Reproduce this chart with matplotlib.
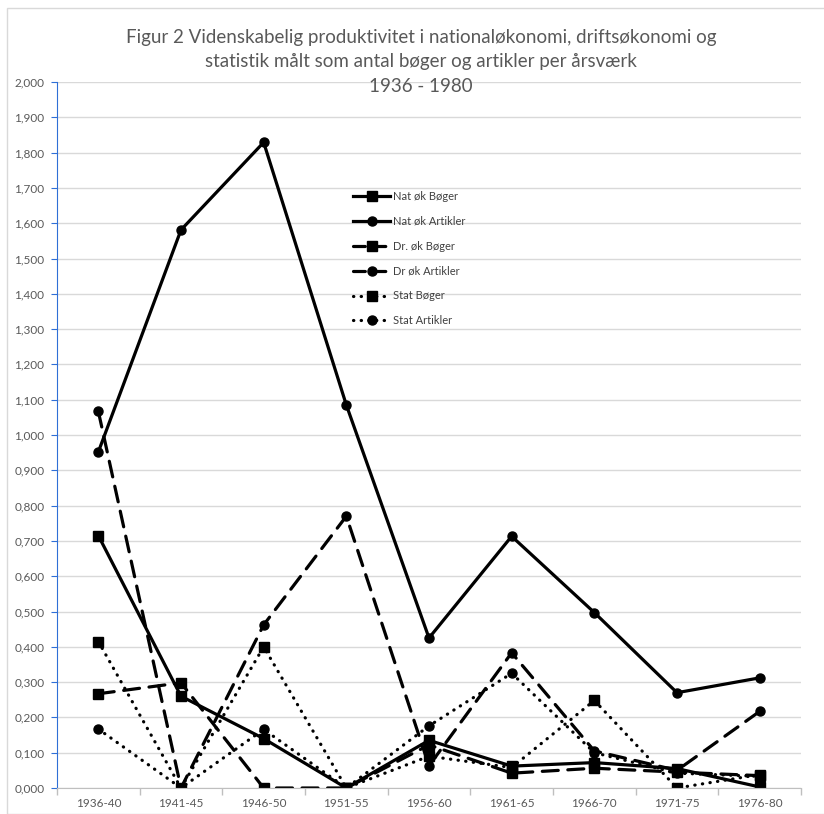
import matplotlib.pyplot as plt
from matplotlib.patches import Rectangle
from matplotlib.ticker import FixedLocator, FuncFormatter, MultipleLocator
import numpy as np

periods = ["1936-40", "1941-45", "1946-50", "1951-55", "1956-60",
           "1961-65", "1966-70", "1971-75", "1976-80"]

nat_boger = [0.715, 0.260, 0.140, 0.000, 0.135, 0.062, 0.072, 0.055, 0.003]
nat_artikler = [0.952, 1.581, 1.829, 1.085, 0.425, 0.713, 0.497, 0.270, 0.312]
dr_boger = [0.267, 0.298, 0.000, 0.000, 0.122, 0.042, 0.056, 0.045, 0.035]
dr_artikler = [1.067, 0.000, 0.462, 0.770, 0.063, 0.383, 0.105, 0.050, 0.217]
stat_boger = [0.415, 0.000, 0.400, 0.000, 0.090, 0.058, 0.248, 0.000, 0.038]
stat_artikler = [0.167, 0.000, 0.166, 0.000, 0.176, 0.325, 0.100, 0.042, 0.033]

series = [
    ("Nat øk Bøger", nat_boger, "-", "s"),
    ("Nat øk Artikler", nat_artikler, "-", "o"),
    ("Dr. øk Bøger", dr_boger, (0, (5, 3)), "s"),
    ("Dr øk Artikler", dr_artikler, (0, (5, 3)), "o"),
    ("Stat Bøger", stat_boger, (0, (0.1, 2.3)), "s"),
    ("Stat Artikler", stat_artikler, (0, (0.1, 2.3)), "o"),
]

plt.rcParams["font.family"] = ["Lato", "DejaVu Sans"]
text_grey = "#595959"

fig = plt.figure(figsize=(8.24, 8.14), dpi=100)
fig.patches.append(Rectangle((7 / 824, 0), 1, 1 - 8 / 814, transform=fig.transFigure,
                             fill=False, edgecolor="#d9d9d9", lw=1))
ax = fig.add_axes([57 / 824, 1 - 788 / 814, 744 / 824, 706 / 814])

x = np.arange(len(periods))
for label, values, ls, marker in series:
    ax.plot(x, values, color="black", lw=2.3, linestyle=ls, marker=marker,
            markersize=6.5, dash_capstyle="round", label=label)

ax.set_xlim(-0.5, len(periods) - 0.5)
ax.set_ylim(0, 2.0)
ax.yaxis.set_major_locator(MultipleLocator(0.1))
ax.yaxis.set_major_formatter(FuncFormatter(lambda v, _: f"{v:.3f}".replace(".", ",")))
ax.grid(axis="y", color="#d9d9d9", lw=1)
ax.set_axisbelow(True)

ax.set_xticks(x)
ax.set_xticklabels(periods)
ax.xaxis.set_minor_locator(FixedLocator(np.arange(-0.5, len(periods), 1.0)))
ax.tick_params(axis="x", which="major", length=0, pad=7, labelsize=8.5, labelcolor=text_grey)
ax.tick_params(axis="x", which="minor", length=5, color="#bfbfbf", width=1)
ax.tick_params(axis="y", length=4, color="#2f6fd6", labelsize=8.5, labelcolor=text_grey, pad=5)

for side in ("top", "right"):
    ax.spines[side].set_visible(False)
ax.spines["bottom"].set_color("#bfbfbf")
ax.spines["left"].set_color("#2f6fd6")

fig.text(421 / 824, 1 - 38 / 814,
         "Figur 2 Videnskabelig produktivitet i nationaløkonomi, driftsøkonomi og",
         ha="center", va="center", fontsize=13.5, color=text_grey)
fig.text(421 / 824, 1 - 62 / 814,
         "statistik målt som antal bøger og artikler per årsværk",
         ha="center", va="center", fontsize=13.5, color=text_grey)
fig.text(421 / 824, 1 - 86 / 814, "1936 - 1980",
         ha="center", va="center", fontsize=13.5, color=text_grey)

leg = ax.legend(loc="upper left", bbox_to_anchor=(0.385, 0.86), frameon=False,
                fontsize=8, handlelength=3.3, handletextpad=0.3, labelspacing=1.25,
                labelcolor="#404040")
# short dashes in the legend so the gaps show beside the marker
for handle in leg.get_lines()[2:4]:
    handle.set_linestyle((0.5, (4.2, 2.2)))

fig.savefig("out.png", dpi=100)
